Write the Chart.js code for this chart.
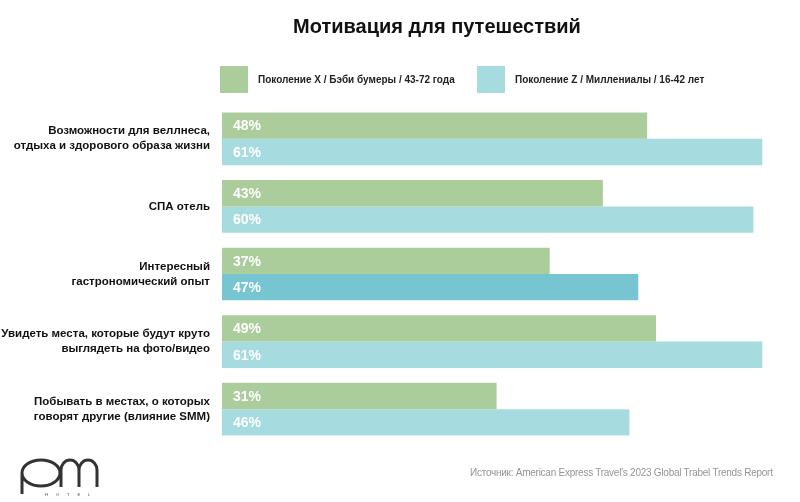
<!DOCTYPE html>
<html>
<head>
<meta charset="utf-8">
<script src="https://cdn.jsdelivr.net/npm/chart.js@4"></script>
<style>
  html, body { margin: 0; padding: 0; background: #fff; }
  #wrap { position: relative; width: 800px; height: 502px; font-family: 'Liberation Sans', Arial, sans-serif; }
  #chart { position: absolute; left: 0; top: 0; }
  .title { position: absolute; left: 0; width: 874px; top: 15px; text-align: center; font-weight: bold; font-size: 20px; color: #111; }
  .leg { position: absolute; top: 65px; height: 28px; display: flex; align-items: center; font-size: 10px; font-weight: bold; color: #222; white-space: nowrap; }
  .leg i { display: inline-block; width: 28px; height: 27px; margin-right: 10px; }
  .src { position: absolute; left: 470px; top: 467px; white-space: nowrap; font-family: 'Liberation Sans', sans-serif; font-size: 10px; color: #959595; letter-spacing: -0.25px; }
  .logo { position: absolute; left: 0; top: 440px; }
</style>
</head>
<body>
<div id="wrap">
  <canvas id="chart" width="800" height="502"></canvas>
  <div class="title">Мотивация для путешествий</div>
  <div class="src">Источник: American Express Travel's 2023 Global Trabel Trends Report</div>
  <svg class="logo" width="120" height="62" viewBox="0 440 120 62">
    <g fill="none" stroke="#333" stroke-width="3">
      <path d="M22,494 L22,473 A19,13 0 0 1 60,473 A19,13 0 0 1 22,473"/>
      <path d="M61,487 L61,470 A9,10 0 0 1 79,470 L79,487 M79,470 A9,10 0 0 1 97,470 L97,487"/>
    </g>
    <text x="45" y="496" font-size="4" letter-spacing="8" fill="#444" font-family="Liberation Sans">HOTEL</text>
  </svg>
</div>
<script>
/* ── 데이터 ── */
const categories = [
  ['Возможности для веллнеса,', 'отдыха и здорового образа жизни'],
  'СПА отель',
  ['Интересный', 'гастрономический опыт'],
  ['Увидеть места, которые будут круто', 'выглядеть на фото/видео'],
  ['Побывать в местах, о которых', 'говорят другие (влияние SMM)']
];
const seriesNames = ['Поколение X / Бэби бумеры / 43-72 года', 'Поколение Z / Миллениалы / 16-42 лет'];
const genX = [48, 43, 37, 49, 31];
const genZ = [61, 60, 47, 61, 46];

const GREEN = '#aacd9b';
const BLUE = '#a6dbe0';
const TEAL = '#76c5d1';

/* ── 막대 안 퍼센트 라벨 ── */
const valueLabels = {
  id: 'valueLabels',
  afterDatasetsDraw(chart) {
    const ctx = chart.ctx;
    ctx.save();
    ctx.fillStyle = '#fff';
    ctx.font = "bold 14px 'Liberation Sans', Arial, sans-serif";
    ctx.textBaseline = 'middle';
    ctx.textAlign = 'left';
    chart.data.datasets.forEach((ds, i) => {
      chart.getDatasetMeta(i).data.forEach((bar, j) => {
        ctx.fillText(ds.data[j] + '%', bar.base + 11, bar.y + 1);
      });
    });
    ctx.restore();
  }
};

const chart = new Chart(document.getElementById('chart'), {
  type: 'bar',
  data: {
    labels: categories,
    datasets: [
      { label: seriesNames[0], data: genX, backgroundColor: GREEN },
      { label: seriesNames[1], data: genZ, backgroundColor: genZ.map((v, i) => i === 2 ? TEAL : BLUE) }
    ]
  },
  options: {
    indexAxis: 'y',
    responsive: false,
    animation: false,
    layout: { padding: { top: 105, bottom: 59, left: 0, right: 20 } },
    datasets: { bar: { categoryPercentage: 0.78, barPercentage: 1, borderWidth: 0 } },
    scales: {
      x: { display: false, min: 0, max: 63 },
      y: {
        grid: { display: false, drawTicks: false },
        border: { display: false },
        afterFit(scale) { scale.width = 222; },
        ticks: {
          padding: 12,
          color: '#111',
          font: { family: "'Liberation Sans', Arial, sans-serif", size: 11.5, weight: 'bold', lineHeight: 1.3 }
        }
      }
    },
    plugins: { legend: { display: false }, tooltip: { enabled: false } }
  },
  plugins: [valueLabels]
});

/* ── 범례 ── */
const legendX = [220, 477];
chart.data.datasets.forEach((ds, i) => {
  const el = document.createElement('div');
  el.className = 'leg';
  el.style.left = legendX[i] + 'px';
  const color = i === 0 ? GREEN : BLUE;
  el.innerHTML = '<i style="background:' + color + '"></i><span>' + ds.label + '</span>';
  document.getElementById('wrap').appendChild(el);
});
</script>
</body>
</html>
